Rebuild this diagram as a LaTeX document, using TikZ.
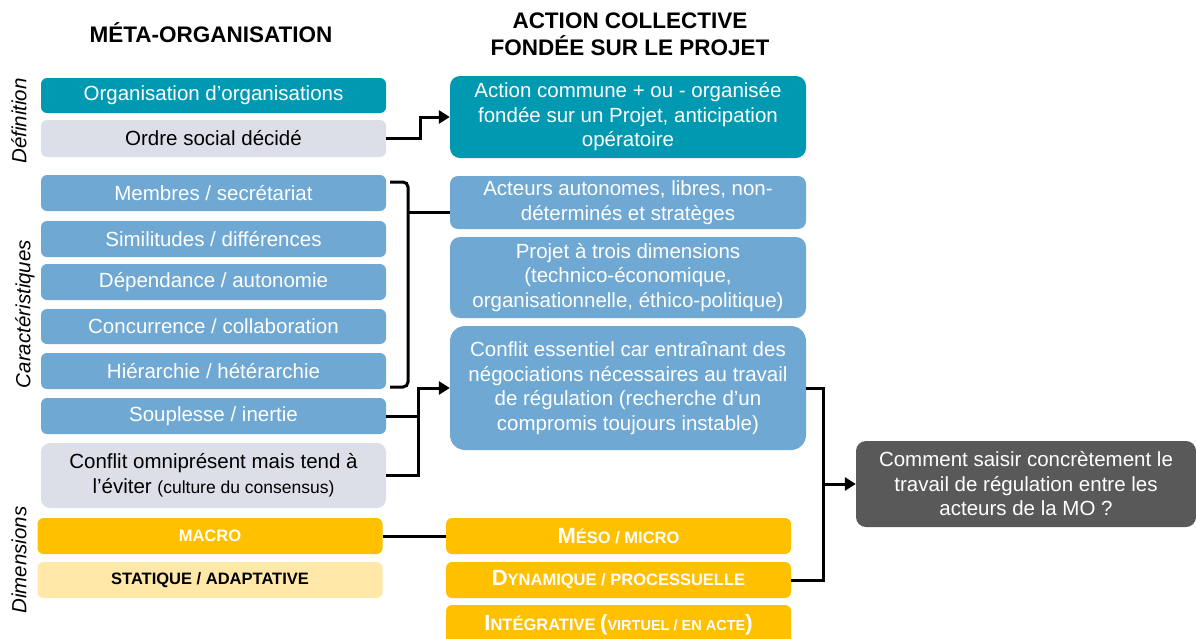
\documentclass[tikz,border=0pt]{standalone}
\usepackage{fontspec}
\setmainfont{Liberation Sans}
\usetikzlibrary{arrows.meta}
\definecolor{tealc}{RGB}{0,153,178}
\definecolor{bluec}{RGB}{111,168,210}
\definecolor{grayc}{RGB}{220,223,232}
\definecolor{orangec}{RGB}{255,192,0}
\definecolor{lorangec}{RGB}{255,232,168}
\definecolor{darkc}{RGB}{89,89,89}
\newcommand\fz[2]{\fontsize{#1}{#2}\selectfont}
\begin{document}
\begin{tikzpicture}[x=1pt,y=-1pt,
  box/.style={rounded corners=6pt, inner sep=2pt, align=center, font=\fz{20.5}{24.5}, text=white},
  lbox/.style={box, minimum width=345pt, minimum height=36pt},
  rbox/.style={box, minimum width=356pt},
  tealbox/.style={fill=tealc},
  bluebox/.style={fill=bluec},
  graybox/.style={fill=grayc, text=black},
  obox/.style={fill=orangec, font=\bfseries},
  lobox/.style={fill=lorangec, text=black, font=\bfseries},
  conn/.style={line width=3pt, black},
  arr/.style={conn, -{Triangle[length=11pt,width=13pt]}},
  vlab/.style={rotate=90, font=\fz{20.5}{22}\itshape},
  head/.style={font=\fz{22.5}{27}\bfseries, align=center}
]
\useasboundingbox (0,0) rectangle (1196,638);

% headers
\node[head] (h1) at (211,33) {MÉTA-ORGANISATION};
\node[head] (h2) at (630,34) {ACTION COLLECTIVE\\FONDÉE SUR LE PROJET};

% side labels
\node[vlab] (v1) at (19,121) {Définition};
\node[vlab] (v2) at (25,314) {Caractéristiques};
\node[vlab] (v3) at (19,560) {Dimensions};

% left column
\node[lbox,tealbox, minimum height=35pt] (org) at (213.5,95.5) {Organisation d’organisations};
\node[lbox,graybox, minimum height=37pt] (ordre) at (213.5,138.5) {Ordre social décidé};
\node[lbox,bluebox] (mem) at (213.5,193) {Membres / secrétariat};
\node[lbox,bluebox] (sim) at (213.5,239) {Similitudes / différences};
\node[lbox,bluebox] (dep) at (213.5,282) {Dépendance / autonomie};
\node[lbox,bluebox, minimum height=35pt] (conc) at (213.5,326.5) {Concurrence / collaboration};
\node[lbox,bluebox] (hier) at (213.5,371) {Hiérarchie / hétérarchie};
\node[lbox,bluebox] (soup) at (213.5,416) {Souplesse / inertie};
\node[lbox,graybox, minimum height=65pt, rounded corners=9pt] (confo) at (213.5,475.5) {Conflit omniprésent mais tend à\\l’éviter {\fz{17.5}{24.5}(culture du consensus)}};
\node[lbox,obox] (macro) at (210,536) {\fz{16.5}{18}MACRO};
\node[lbox,lobox] (stat) at (210,580) {\fz{16.5}{18}STATIQUE / ADAPTATIVE};

% right column
\node[rbox,tealbox, minimum height=82pt, rounded corners=10pt] (action) at (628,117) {Action commune + ou - organisée\\fondée sur un Projet, anticipation\\opératoire};
\node[rbox,bluebox, minimum height=53pt, rounded corners=8pt] (acteurs) at (628,202.5) {Acteurs autonomes, libres, non-\\déterminés et stratèges};
\node[rbox,bluebox, minimum height=81pt, rounded corners=10pt] (projet) at (628,277.5) {Projet à trois dimensions\\(technico-économique,\\organisationnelle, éthico-politique)};
\node[rbox,bluebox, minimum height=124pt, rounded corners=15pt] (confe) at (628,388) {Conflit essentiel car entraînant des\\négociations nécessaires au travail\\de régulation (recherche d’un\\compromis toujours instable)};
\node[lbox,obox] (meso) at (618.5,536) {{\fz{22}{22}M}{\fz{16.5}{18}ÉSO / MICRO}};
\node[lbox,obox] (dyn) at (618.5,580) {{\fz{22}{22}D}{\fz{16.5}{18}YNAMIQUE / PROCESSUELLE}};
\node[lbox,obox, minimum height=40pt] (integ) at (618.5,625) {{\fz{22}{22}I}{\fz{16.5}{18}NTÉGRATIVE }{\fz{22}{22}(}{\fz{14.5}{18}VIRTUEL / EN ACTE}{\fz{22}{22})}};

% question
\node[box, fill=darkc, minimum width=340pt, minimum height=86pt, rounded corners=10pt] (comment) at (1026,484) {Comment saisir concrètement le\\travail de régulation entre les\\acteurs de la MO ?};

% connectors
\coordinate (j1) at (420,0);
\draw[arr] (ordre.east) -- (ordre.east -| j1) |- (action.west);

\coordinate (bt) at (390,182);
\coordinate (bb) at (390,387);
\coordinate (bx) at (408,0);
\coordinate (bm) at (408,212);
\draw[conn, rounded corners=5pt] (bt) -- (bt -| bx) -- (bb -| bx) -- (bb);
\draw[conn] (bm) -- (bm -| acteurs.west);

\coordinate (j2) at (418,0);
\draw[arr] (confo.east) -- (confo.east -| j2) |- (confe.west);
\draw[conn] (soup.east) -- (soup.east -| j2);

\draw[conn] (macro.east) -- (meso.west);

\coordinate (j3) at (823,0);
\draw[conn] (confe.east) -- (confe.east -| j3) |- (dyn.east);
\coordinate (aq) at (823,484);
\draw[arr] (aq) -- (comment.west);
\end{tikzpicture}
\end{document}
